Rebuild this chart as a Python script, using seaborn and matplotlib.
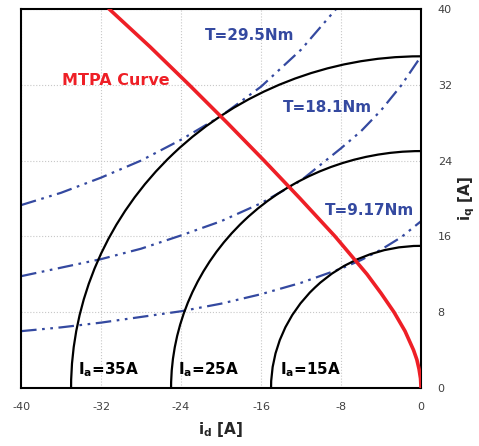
import matplotlib
matplotlib.use("Agg")
import matplotlib.pyplot as plt
from matplotlib.patches import Arc
import pandas as pd
import seaborn as sns

# courant d'axe d (abscisse) pour les courbes de couple
id_pts = [-40, -36, -32, -28, -24, -20, -16, -12, -8, -6, -4, -2, 0]

# courbes iso-couple (iq en A)
t295 = [19.3, 20.6, 22.2, 24.0, 26.2, 28.7, 31.8, 35.7, 40.6, 43.3, 46.5, 50.2, 54.6]
t181 = [11.8, 12.7, 13.6, 14.7, 16.1, 17.6, 19.5, 21.9, 25.3, 27.1, 29.3, 31.9, 35.0]
t917 = [6.0, 6.4, 6.9, 7.5, 8.1, 8.9, 9.9, 11.1, 12.6, 13.5, 14.6, 15.9, 17.6]

# courbe MTPA
mtpa_iq = [0, 1, 2, 3, 4, 6, 8, 10, 12, 14, 16, 20, 24, 28, 32, 36, 40]
mtpa_id = [0, -0.05, -0.2, -0.42, -0.75, -1.6, -2.7, -4.0, -5.4, -7.0, -8.6,
           -12.1, -15.7, -19.4, -23.2, -27.1, -31.2]

# cercles de courant
ia_vals = [35, 25, 15]
ia_labels = ["35A", "25A", "15A"]

sns.set_style("white")
plt.rcParams["axes.unicode_minus"] = False

fig = plt.figure(figsize=(4.79, 4.46), dpi=100)
ax = fig.add_axes([0.044, 0.130, 0.835, 0.850])

blue = "#3449a0"
dash = (0, (7, 2.5, 1.2, 2.5, 1.2, 2.5))

for vals in [t295, t181, t917]:
    df = pd.DataFrame({"id": id_pts, "iq": vals})
    sns.lineplot(data=df, x="id", y="iq", ax=ax, color=blue, lw=1.6,
                 linestyle=dash, sort=False)

for r in ia_vals:
    ax.add_patch(Arc((0, 0), 2 * r, 2 * r, theta1=90, theta2=180,
                     color="black", lw=1.6, zorder=3))

df_mtpa = pd.DataFrame({"id": mtpa_id, "iq": mtpa_iq})
sns.lineplot(data=df_mtpa, x="id", y="iq", ax=ax, color="#ee1f26", lw=2.6,
             sort=False, zorder=4)

ax.set_xlim(-40, 0)
ax.set_ylim(0, 40)
ax.set_xticks(range(-40, 1, 8))
ax.set_yticks(range(0, 41, 8))
ax.yaxis.tick_right()
ax.yaxis.set_label_position("right")
ax.tick_params(length=0, labelsize=8, labelcolor="#404040")
ax.tick_params(axis="x", pad=10)
ax.tick_params(axis="y", pad=12)
ax.grid(True, color="#c8c8c8", linestyle=":", lw=0.8)
for s in ax.spines.values():
    s.set_color("black")
    s.set_linewidth(1.5)

ax.set_xlabel(r"$\mathbf{i_d}$ [A]", fontsize=11, fontweight="bold", labelpad=6)
ax.set_ylabel(r"$\mathbf{i_q}$ [A]", fontsize=11, fontweight="bold", labelpad=3)

# annotations
ax.text(-35.9, 32.4, "MTPA Curve", color="#ee1f26", fontsize=11.5,
        fontweight="bold", va="center")
ax.text(-21.6, 37.2, "T=29.5Nm", color=blue, fontsize=11, fontweight="bold", va="center")
ax.text(-13.8, 29.6, "T=18.1Nm", color=blue, fontsize=11, fontweight="bold", va="center")
ax.text(-9.6, 18.7, "T=9.17Nm", color=blue, fontsize=11, fontweight="bold", va="center")
for x0, lab in zip([-34.3, -24.3, -14.1], ia_labels):
    ax.text(x0, 1.9, r"$\mathbf{I_a}$=" + lab, color="black", fontsize=11,
            fontweight="bold", va="center")

fig.savefig("out.png", dpi=100)
